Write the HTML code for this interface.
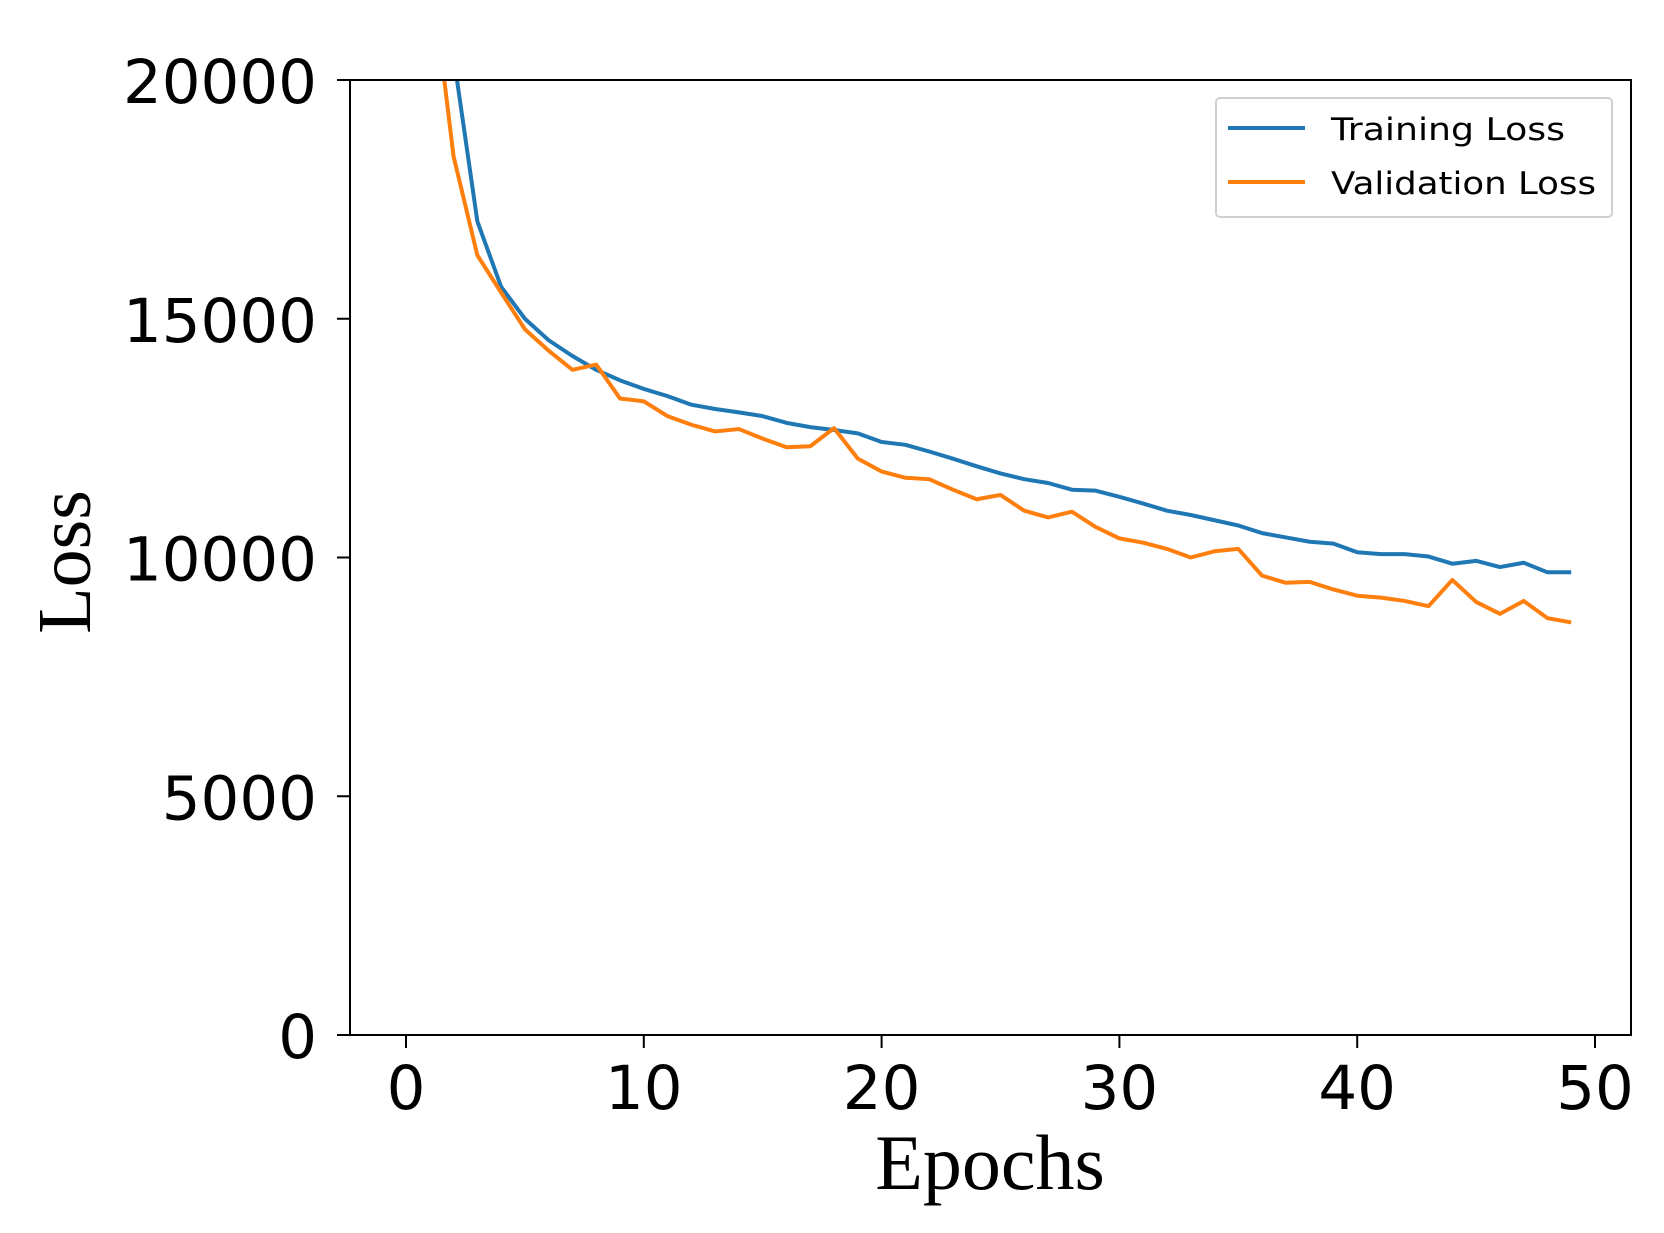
<!DOCTYPE html>
<html><head><meta charset="utf-8"><style>
html,body{margin:0;padding:0;background:#fff;}
svg{display:block;}
</style></head><body>
<svg id="chart" width="1664" height="1233" viewBox="0 0 1664 1233" xmlns="http://www.w3.org/2000/svg">
<defs><clipPath id="plotclip"><rect x="350" y="80" width="1281" height="955"/></clipPath></defs>
<rect width="1664" height="1233" fill="#fff"/>
<g id="xticks"></g>
<g id="yticks"></g>
<g clip-path="url(#plotclip)">
<polyline id="train" fill="none" stroke="#1f77b4" stroke-width="4" stroke-linejoin="round"/>
<polyline id="val" fill="none" stroke="#ff7f0e" stroke-width="4" stroke-linejoin="round"/>
</g>
<rect x="350" y="80" width="1281" height="955" fill="none" stroke="#000" stroke-width="2"/>
<text x="990" y="1189" text-anchor="middle" font-family="Liberation Serif, serif" font-size="78">Epochs</text>
<text transform="translate(90,562) rotate(-90)" text-anchor="middle" font-family="Liberation Serif, serif" font-size="76">Loss</text>
<g>
<rect x="1216" y="98" width="396" height="119" rx="4" fill="#fff" stroke="#d0d0d0" stroke-width="2"/>
<line x1="1228" y1="128" x2="1305" y2="128" stroke="#1f77b4" stroke-width="4"/>
<text x="1331" y="140" font-family="DejaVu Sans, sans-serif" font-size="31" textLength="234" lengthAdjust="spacingAndGlyphs">Training Loss</text>
<line x1="1228" y1="182" x2="1305" y2="182" stroke="#ff7f0e" stroke-width="4"/>
<text x="1331" y="194" font-family="DejaVu Sans, sans-serif" font-size="31" textLength="265" lengthAdjust="spacingAndGlyphs">Validation Loss</text>
</g>
</svg>
<script>
const epochs = [0,1,2,3,4,5,6,7,8,9,10,11,12,13,14,15,16,17,18,19,20,21,22,23,24,25,26,27,28,29,30,31,32,33,34,35,36,37,38,39,40,41,42,43,44,45,46,47,48,49];
const trainingLoss = [32000,25000,20500,17040,15670,15000,14550,14220,13930,13710,13530,13380,13200,13110,13040,12960,12820,12730,12670,12600,12420,12360,12220,12070,11910,11760,11640,11560,11420,11400,11270,11130,10980,10890,10780,10670,10510,10420,10330,10290,10110,10070,10070,10020,9870,9930,9800,9890,9690,9690];
const validationLoss = [30000,22500,18400,16330,15550,14780,14330,13930,14040,13330,13270,12960,12780,12640,12690,12490,12310,12330,12710,12070,11800,11670,11640,11420,11220,11310,10980,10840,10960,10640,10400,10310,10180,10000,10130,10180,9620,9470,9490,9330,9200,9160,9090,8980,9530,9070,8820,9090,8730,8640];
const xTickValues = [0,10,20,30,40,50];
const yTickValues = [0,5000,10000,15000,20000];

const NS = 'http://www.w3.org/2000/svg';
function xScale(e){ return 406 + e * (1595 - 406) / 50; }
function yScale(v){ return 1035 - v * (1035 - 80) / 20000; }

document.getElementById('train').setAttribute('points', epochs.map((e,i)=>xScale(e)+','+yScale(trainingLoss[i])).join(' '));
document.getElementById('val').setAttribute('points', epochs.map((e,i)=>xScale(e)+','+yScale(validationLoss[i])).join(' '));

const xg = document.getElementById('xticks');
xTickValues.forEach(t=>{
  const x = xScale(t);
  const l = document.createElementNS(NS,'line');
  
  
  l.setAttribute('x1',x); l.setAttribute('x2',x); l.setAttribute('y1',1035); l.setAttribute('y2',1048);
  l.setAttribute('stroke','#000'); l.setAttribute('stroke-width','2');
  xg.appendChild(l);
  const tx = document.createElementNS(NS,'text');
  
  
  tx.setAttribute('x',x); tx.setAttribute('y',1109); tx.setAttribute('text-anchor','middle');
  tx.setAttribute('font-family','DejaVu Sans, sans-serif'); tx.setAttribute('font-size','61');
  tx.textContent = t;
  xg.appendChild(tx);
});
const yg = document.getElementById('yticks');
yTickValues.forEach(t=>{
  const y = yScale(t);
  const l = document.createElementNS(NS,'line');
  
  
  l.setAttribute('x1',337); l.setAttribute('x2',350); l.setAttribute('y1',y); l.setAttribute('y2',y);
  l.setAttribute('stroke','#000'); l.setAttribute('stroke-width','2');
  yg.appendChild(l);
  const tx = document.createElementNS(NS,'text');
  
  
  tx.setAttribute('x',317); tx.setAttribute('y',y+23); tx.setAttribute('text-anchor','end');
  tx.setAttribute('font-family','DejaVu Sans, sans-serif'); tx.setAttribute('font-size','61');
  tx.textContent = t;
  yg.appendChild(tx);
});
</script>
</body></html>
